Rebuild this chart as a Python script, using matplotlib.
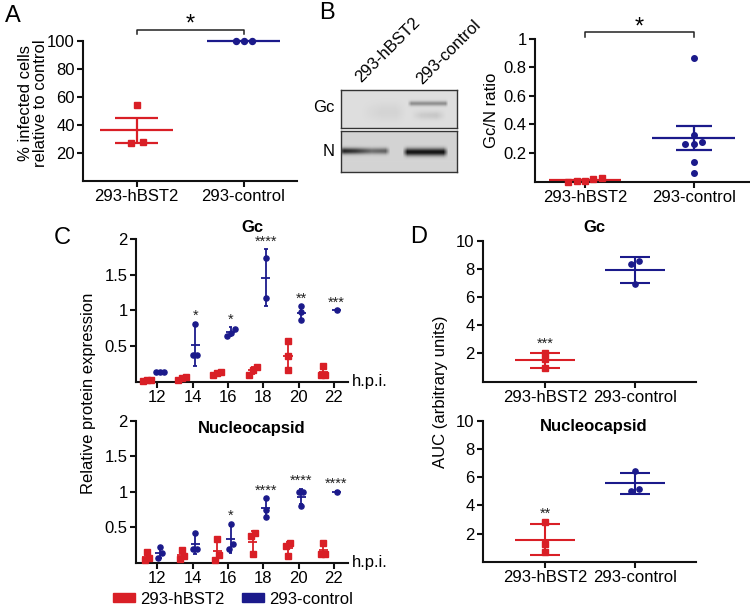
import numpy as np
import matplotlib
matplotlib.use('Agg')
import matplotlib.pyplot as plt
from matplotlib.patches import Patch
from matplotlib.ticker import FuncFormatter

plt.rcParams['font.family'] = ['Liberation Sans', 'DejaVu Sans']

RED = '#d91f26'
NAVY = '#1b1a8b'
W, H = 750, 613

groups = ['293-hBST2', '293-control']

# panel A - % infected cells
a_hbst2 = [54, 27, 28]
a_control = [100, 100, 100]
a_mean = [36.4, 100]
a_err = [8.9, 0]

# panel B - Gc/N ratio
b_hbst2 = [0.025, 0.002, 0.0, 0.003, 0.02]
b_control = [0.87, 0.325, 0.26, 0.26, 0.28, 0.135, 0.058]
b_mean = [0.01, 0.305]
b_err = [0.004, 0.085]

# panel C - time course
hours = [12, 14, 16, 18, 20, 22]
c_gc_hbst2 = [[0.03, 0.01, 0.02], [0.07, 0.03, 0.05], [0.10, 0.12, 0.14],
              [0.10, 0.17, 0.20], [0.57, 0.36, 0.17], [0.22, 0.09, 0.09]]
c_gc_hbst2_mean = [0.02, 0.05, 0.12, 0.16, 0.36, 0.13]
c_gc_hbst2_sd = [0.01, 0.02, 0.02, 0.05, 0.20, 0.07]
c_gc_control = [[0.13, 0.14, 0.14], [0.81, 0.37, 0.37], [0.64, 0.68, 0.74],
                [1.74, 1.18], [0.87, 0.97, 1.06], [1.0]]
c_gc_control_mean = [0.14, 0.52, 0.70, 1.46, 0.96, 1.0]
c_gc_control_sd = [0.01, 0.30, 0.06, 0.40, 0.10, 0.005]
c_gc_stars = ['', '*', '*', '****', '**', '***']

c_nuc_hbst2 = [[0.15, 0.06, 0.04], [0.17, 0.05, 0.09], [0.33, 0.035, 0.105],
               [0.42, 0.38, 0.12], [0.27, 0.23, 0.09], [0.28, 0.12, 0.12]]
c_nuc_hbst2_mean = [0.08, 0.10, 0.16, 0.29, 0.20, 0.17]
c_nuc_hbst2_sd = [0.05, 0.06, 0.15, 0.15, 0.09, 0.09]
c_nuc_control = [[0.22, 0.13, 0.07], [0.41, 0.19, 0.19], [0.55, 0.26, 0.19],
                 [0.91, 0.74, 0.64], [0.99, 0.99, 0.80], [1.0]]
c_nuc_control_mean = [0.14, 0.26, 0.33, 0.77, 0.93, 1.0]
c_nuc_control_sd = [0.08, 0.14, 0.19, 0.14, 0.11, 0.005]
c_nuc_stars = ['', '', '*', '****', '****', '****']

# panel D - AUC
d_gc_hbst2 = [2.0, 1.57, 0.93]
d_gc_control = [8.56, 8.34, 6.9]
d_gc_mean = [1.5, 7.93]
d_gc_err = [0.55, 0.9]
d_nuc_hbst2 = [2.79, 1.23, 0.69]
d_nuc_control = [6.44, 5.03, 5.18]
d_nuc_mean = [1.57, 5.55]
d_nuc_err = [1.07, 0.77]
d_stars = ['***', '**']

FS = 12

fig = plt.figure(figsize=(W / 100, H / 100), dpi=100)


def add_ax(x0, x1, ytop, ybot):
    return fig.add_axes([x0 / W, 1 - ybot / H, (x1 - x0) / W, (ybot - ytop) / H])


def ftext(x, y, s, **kw):
    fig.text(x / W, 1 - y / H, s, **kw)


def style(ax, fs=FS):
    for s in ['top', 'right']:
        ax.spines[s].set_visible(False)
    for s in ['left', 'bottom']:
        ax.spines[s].set_linewidth(1.5)
        ax.spines[s].set_color('#111111')
    ax.tick_params(width=1.5, length=4, labelsize=fs, color='#111111', pad=2)
    ax.yaxis.set_major_formatter(FuncFormatter(lambda v, p: f'{v:g}'))


def px_scale(ax):
    bb = ax.get_position()
    x0, x1 = ax.get_xlim()
    y0, y1 = ax.get_ylim()
    return bb.width * W / (x1 - x0), bb.height * H / (y1 - y0)


def swarm(ax, vals, step_px, thr_px):
    sx, sy = px_scale(ax)
    vals = np.asarray(vals, dtype=float)
    order = np.argsort(vals, kind='stable')
    offs = np.zeros(len(vals))
    clusters = [[order[0]]] if len(vals) else []
    for i in order[1:]:
        if (vals[i] - vals[clusters[-1][-1]]) * sy < thr_px:
            clusters[-1].append(i)
        else:
            clusters.append([i])
    for c in clusters:
        n = len(c)
        for k, i in enumerate(c):
            offs[i] = (k - (n - 1) / 2) * step_px / sx
    return offs


def dots(ax, x, vals, mean, err, color, marker, ms, half_mean, half_cap, lw,
         step_px, thr_px):
    offs = swarm(ax, vals, step_px, thr_px)
    ax.plot(x + offs, vals, ls='none', marker=marker, ms=ms, color=color,
            mec=color, clip_on=False, zorder=3)
    kw = dict(color=color, lw=lw, clip_on=False, zorder=2, solid_capstyle='butt')
    ax.plot([x - half_mean, x + half_mean], [mean, mean], **kw)
    if err > 0:
        ax.plot([x, x], [mean - err, mean + err], **kw)
        for yy in (mean - err, mean + err):
            ax.plot([x - half_cap, x + half_cap], [yy, yy], **kw)


# ---------------- A ----------------
ax = add_ax(83, 297, 41, 181)
ax.set_xlim(-0.5, 1.5)
ax.set_ylim(0, 100)
style(ax)
ax.set_yticks([20, 40, 60, 80, 100])
ax.set_xticks([0, 1])
ax.set_xticklabels(groups)
dots(ax, 0, a_hbst2, a_mean[0], a_err[0], RED, 's', 4.3, 0.34, 0.2, 1.6, 12, 6)
dots(ax, 1, a_control, a_mean[1], a_err[1], NAVY, 'o', 4.3, 0.34, 0.2, 1.6, 8, 6)
ax.plot([0, 0, 1, 1], [105, 108, 108, 105], color='#222222', lw=1.1, clip_on=False)
ax.text(0.5, 111.5, '*', ha='center', va='center', fontsize=17)
ftext(33, 103, '% infected cells\nrelative to control', rotation=90, ha='center',
      va='center', fontsize=FS, linespacing=1.0)
ftext(13, 16, 'A', ha='center', va='center', fontsize=17)

# ---------------- B blot ----------------
gc_h, n_h, bw = 38, 41, 116
cols = np.arange(bw)


def band_img(h, bg, bands):
    img = np.full((h, bw), bg)
    rows = np.arange(h)[:, None]
    for (xs, depth, row, half) in bands:
        prof = np.interp(cols, xs, depth, left=0, right=0)[None, :]
        img = img - prof * np.exp(-((rows - row) / half) ** 2)
    return np.clip(img, 0, 1)


gc_img = band_img(gc_h, 0.87, [([66, 70, 104, 107], [0, 0.3, 0.3, 0], 13, 2.4),
                               ([70, 80, 95, 105], [0, 0.07, 0.09, 0], 25, 4.0),
                               ([20, 40, 55, 65], [0, 0.04, 0.04, 0], 22, 8.0)])
n_img = band_img(n_h, 0.83, [([0, 3, 14, 30, 44, 49], [0.55, 0.7, 0.62, 0.4, 0.45, 0], 20, 3.0),
                             ([61, 66, 102, 107], [0, 0.76, 0.76, 0], 21, 3.6)])
for img, (yt, yb) in [(gc_img, (90, 128)), (n_img, (131, 172))]:
    bx = add_ax(341, 457, yt, yb)
    bx.imshow(img, cmap='gray', vmin=0, vmax=1, aspect='auto', interpolation='bilinear')
    bx.set_xticks([])
    bx.set_yticks([])
    for s in bx.spines.values():
        s.set_linewidth(1.0)
        s.set_color('#333333')
ftext(335, 108, 'Gc', ha='right', va='center', fontsize=FS)
ftext(335, 151, 'N', ha='right', va='center', fontsize=FS)
ftext(361, 83, '293-hBST2', rotation=45, ha='left', va='baseline',
      rotation_mode='anchor', fontsize=FS)
ftext(422, 85, '293-control', rotation=45, ha='left', va='baseline',
      rotation_mode='anchor', fontsize=FS)
ftext(327, 13, 'B', ha='center', va='center', fontsize=17)

# ---------------- B ratio ----------------
ax = add_ax(535, 749, 39, 181.5)
ax.set_xlim(-0.46, 1.51)
ax.set_ylim(0, 1)
style(ax)
ax.set_yticks([0.2, 0.4, 0.6, 0.8, 1])
ax.set_xticks([0, 1])
ax.set_xticklabels(groups)
dots(ax, 0, b_hbst2, b_mean[0], b_err[0], RED, 's', 3.8, 0.33, 0.1, 1.6, 8.4, 6)
dots(ax, 1, b_control, b_mean[1], b_err[1], NAVY, 'o', 4.0, 0.38, 0.165, 1.6, 8.5, 6)
ax.plot([0, 0, 1, 1], [1.014, 1.049, 1.049, 1.014], color='#222222', lw=1.1, clip_on=False)
ax.text(0.5, 1.077, '*', ha='center', va='center', fontsize=17)
ax.set_ylabel('Gc/N ratio', fontsize=FS, labelpad=3)

# ---------------- C ----------------
c_sets = [
    (239, 381.7, 'Gc', 228, c_gc_hbst2, c_gc_hbst2_mean, c_gc_hbst2_sd,
     c_gc_control, c_gc_control_mean, c_gc_control_sd, c_gc_stars),
    (420.7, 562.5, 'Nucleocapsid', 428, c_nuc_hbst2, c_nuc_hbst2_mean, c_nuc_hbst2_sd,
     c_nuc_control, c_nuc_control_mean, c_nuc_control_sd, c_nuc_stars),
]
for (yt, yb, title, ty, rv, rm, rs, bv, bm, bs, stars) in c_sets:
    ax = add_ax(136, 348, yt, yb)
    ax.set_xlim(10.8, 22.8)
    ax.set_ylim(0, 2)
    style(ax)
    ax.set_yticks([0.5, 1, 1.5, 2])
    ax.set_xticks(hours)
    for i, hr in enumerate(hours):
        dots(ax, hr - 0.6, rv[i], rm[i], rs[i], RED, 's', 3.7, 0.26, 0.11, 1.3, 4, 5)
        dots(ax, hr + 0.15, bv[i], bm[i], bs[i], NAVY, 'o', 3.7, 0.26, 0.11, 1.3, 4, 5)
        if stars[i]:
            top = max(bm[i] + bs[i], max(bv[i]))
            ax.annotate(stars[i], (hr + 0.15, top), xytext=(0, 0.5),
                        textcoords='offset points', ha='center', va='bottom',
                        fontsize=10.5, color='#222222')
    ax.text(1.02, 0, 'h.p.i.', transform=ax.transAxes, ha='left', va='center',
            fontsize=FS)
    ftext(252, ty, title, ha='center', va='center', fontsize=FS, fontweight='bold')
ftext(88, 393, 'Relative protein expression', rotation=90, ha='center',
      va='center', fontsize=FS)
ftext(62, 238, 'C', ha='center', va='center', fontsize=17)

fig.legend(handles=[Patch(color=RED, label=groups[0]), Patch(color=NAVY, label=groups[1])],
           loc='center left', bbox_to_anchor=(113 / W, 1 - 599 / H), ncol=2,
           frameon=False, handlelength=1.3, handleheight=0.45, handletextpad=0.3,
           columnspacing=1.1, borderpad=0, borderaxespad=0, fontsize=FS)

# ---------------- D ----------------
d_sets = [
    (240.7, 381.5, 'Gc', 228, d_gc_hbst2, d_gc_control, d_gc_mean, d_gc_err, d_stars[0]),
    (420.7, 561.7, 'Nucleocapsid', 427, d_nuc_hbst2, d_nuc_control, d_nuc_mean, d_nuc_err, d_stars[1]),
]
for (yt, yb, title, ty, rv, bv, mn, er, st) in d_sets:
    ax = add_ax(483, 696, yt, yb)
    ax.set_xlim(-0.69, 1.68)
    ax.set_ylim(0, 10)
    style(ax)
    ax.set_yticks([2, 4, 6, 8, 10])
    ax.set_xticks([0, 1])
    ax.set_xticklabels(groups)
    dots(ax, 0, rv, mn[0], er[0], RED, 's', 3.8, 0.33, 0.17, 1.5, 7.5, 6)
    dots(ax, 1, bv, mn[1], er[1], NAVY, 'o', 3.8, 0.33, 0.17, 1.5, 7.5, 6)
    top = max(mn[0] + er[0], max(rv))
    ax.annotate(st, (0, top), xytext=(0, 1), textcoords='offset points',
                ha='center', va='bottom', fontsize=10.5, color='#222222')
    ftext(594, ty, title, ha='center', va='center', fontsize=FS, fontweight='bold')
ftext(440, 392, 'AUC (arbitrary units)', rotation=90, ha='center', va='center',
      fontsize=FS)
ftext(419, 237, 'D', ha='center', va='center', fontsize=17)

fig.savefig('out.png', dpi=100)
